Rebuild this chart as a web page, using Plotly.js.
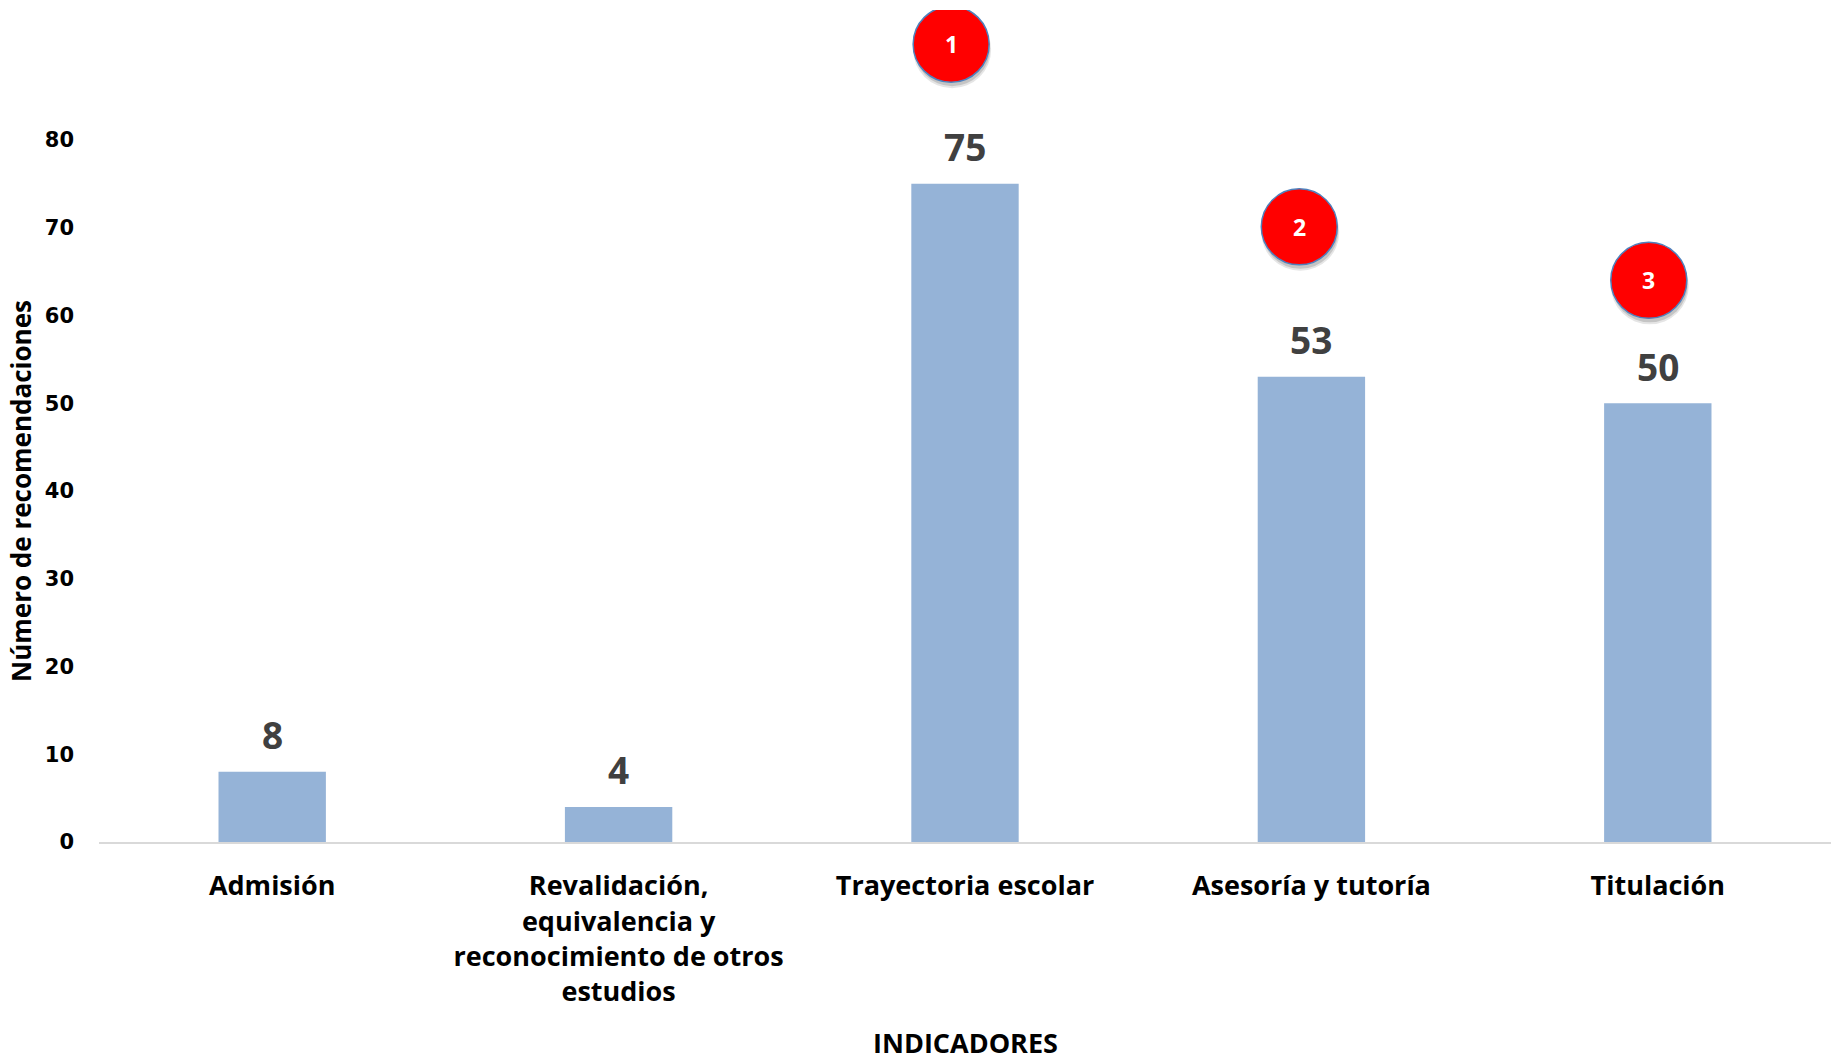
<!DOCTYPE html>
<html>
<head>
<meta charset="utf-8">
<script src="https://cdn.plot.ly/plotly-3.0.1.min.js"></script>
<style>html,body{margin:0;padding:0;background:#fff;}#chart{width:1831px;height:1061px;}</style>
</head>
<body>
<div id="chart"></div>
<script>
// ---- data ----
const categories = ['Admisión', 'Revalidación', 'Trayectoria escolar', 'Asesoría y tutoría', 'Titulación'];
const tickLabels = ['Admisión', 'Revalidación,<br>equivalencia y<br>reconocimiento de otros<br>estudios', 'Trayectoria escolar', 'Asesoría y tutoría', 'Titulación'];
const values = [8, 4, 75, 53, 50];
const yTickVals = [0, 10, 20, 30, 40, 50, 60, 70, 80];
const yTitle = 'Número de recomendaciones';
const xTitle = 'INDICADORES';
// ranking badges
const rankCategoryIndex = [2, 3, 4];
const rankLabels = ['1', '2', '3'];
const rankY = [90.9, 70.1, 64.0];
const rankXOffset = [-0.04, -0.035, -0.026];

const labelFont = {family: 'Open Sans', size: 27, color: '#000000', weight: 'bold'};

const bar = {
  type: 'bar',
  x: categories,
  y: values,
  width: 0.31,
  marker: {color: '#95B3D7'},
  hoverinfo: 'x+y'
};

const annotations = [];
values.forEach((v, i) => {
  annotations.push({
    x: categories[i], y: v, xref: 'x', yref: 'y',
    text: String(v), showarrow: false,
    yanchor: 'middle', yshift: 37,
    font: {family: 'Open Sans', size: 37, color: '#404040', weight: 'bold'}
  });
});
annotations.push({
  xref: 'paper', x: 0, xshift: -78, xanchor: 'center',
  yref: 'y', y: 40, yanchor: 'middle',
  text: yTitle, textangle: -90, showarrow: false,
  font: {family: 'Open Sans', size: 26, color: '#000000', weight: 'bold'}
});
annotations.push({
  xref: 'paper', x: 0.5, xanchor: 'center',
  yref: 'paper', y: 0, yshift: -200, yanchor: 'middle',
  text: xTitle, showarrow: false,
  font: {family: 'Open Sans', size: 27, color: '#000000', weight: 'bold'}
});

const shapes = [];
rankLabels.forEach((lab, i) => {
  const xa = rankCategoryIndex[i] + rankXOffset[i];
  // soft shadow
  shapes.push({
    type: 'circle', xref: 'x', yref: 'y', xsizemode: 'pixel', ysizemode: 'pixel',
    xanchor: xa, yanchor: rankY[i], x0: -38, x1: 40, y0: -44, y1: 33,
    fillcolor: 'rgba(0,0,0,0.10)', line: {width: 0}, layer: 'above'
  });
  shapes.push({
    type: 'circle', xref: 'x', yref: 'y', xsizemode: 'pixel', ysizemode: 'pixel',
    xanchor: xa, yanchor: rankY[i], x0: -37, x1: 39, y0: -42, y1: 34,
    fillcolor: 'rgba(0,0,0,0.14)', line: {width: 0}, layer: 'above'
  });
  shapes.push({
    type: 'circle', xref: 'x', yref: 'y', xsizemode: 'pixel', ysizemode: 'pixel',
    xanchor: xa, yanchor: rankY[i], x0: -38, x1: 38, y0: -38, y1: 38,
    fillcolor: '#FF0000', line: {color: '#4F81BD', width: 1.5}, layer: 'above'
  });
  annotations.push({
    x: xa, y: rankY[i], xref: 'x', yref: 'y', text: lab, showarrow: false,
    xanchor: 'center', yanchor: 'middle',
    font: {family: 'Open Sans', size: 23, color: '#FFFFFF', weight: 'bold'}
  });
});

const layout = {
  width: 1831, height: 1061,
  margin: {l: 99, r: 0, t: 10, b: 219},
  paper_bgcolor: '#FFFFFF', plot_bgcolor: '#FFFFFF',
  showlegend: false,
  xaxis: {
    type: 'category',
    range: [-0.5, 4.5],
    tickvals: categories, ticktext: tickLabels,
    ticks: '', showgrid: false, zeroline: false,
    showline: true, linecolor: '#D9D9D9', linewidth: 2,
    tickfont: labelFont,
    ticklabelstandoff: 19,
    automargin: false
  },
  yaxis: {
    range: [0, 94.8],
    tickvals: yTickVals,
    ticks: '', showgrid: false, zeroline: false, showline: false,
    tickfont: {family: 'DejaVu Sans', size: 21, color: '#000000', weight: 'bold'},
    ticklabelstandoff: 24,
    automargin: false
  },
  annotations: annotations,
  shapes: shapes
};

Plotly.newPlot('chart', [bar], layout, {displayModeBar: false, staticPlot: true});
</script>
</body>
</html>
